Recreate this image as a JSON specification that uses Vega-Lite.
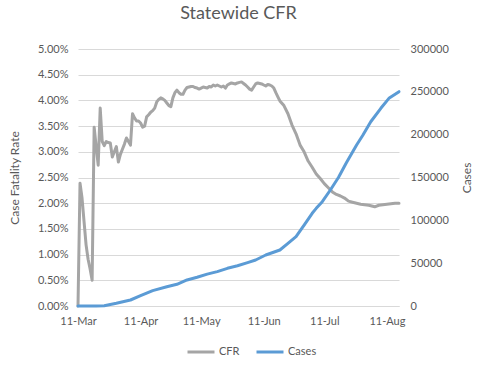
{
 "$schema": "https://vega.github.io/schema/vega-lite/v6.json",
 "width": 321, "height": 257,
 "autosize": {"type": "none"},
 "padding": {"left": 78, "top": 49, "right": 85, "bottom": 63},
 "background": "white",
 "title": {"text": "Statewide CFR", "fontSize": 18, "font": "Lato", "fontWeight": "normal", "color": "#595959", "offset": 20, "anchor": "middle"},
 "config": {"view": {"stroke": null}, "font": "Lato"},
 "datasets": {
  "cfr": [
   {"date": "2020-03-11", "cfr": 0},
   {"date": "2020-03-12", "cfr": 0.0239},
   {"date": "2020-03-13", "cfr": 0.021},
   {"date": "2020-03-14", "cfr": 0.0164},
   {"date": "2020-03-15", "cfr": 0.0119},
   {"date": "2020-03-16", "cfr": 0.0091},
   {"date": "2020-03-17", "cfr": 0.0072},
   {"date": "2020-03-18", "cfr": 0.005},
   {"date": "2020-03-19", "cfr": 0.0348},
   {"date": "2020-03-20", "cfr": 0.031},
   {"date": "2020-03-21", "cfr": 0.0274},
   {"date": "2020-03-22", "cfr": 0.0385},
   {"date": "2020-03-23", "cfr": 0.032},
   {"date": "2020-03-24", "cfr": 0.0312},
   {"date": "2020-03-25", "cfr": 0.032},
   {"date": "2020-03-26", "cfr": 0.0318},
   {"date": "2020-03-27", "cfr": 0.0317},
   {"date": "2020-03-28", "cfr": 0.029},
   {"date": "2020-03-29", "cfr": 0.03},
   {"date": "2020-03-30", "cfr": 0.031},
   {"date": "2020-03-31", "cfr": 0.028},
   {"date": "2020-04-01", "cfr": 0.0295},
   {"date": "2020-04-02", "cfr": 0.0305},
   {"date": "2020-04-03", "cfr": 0.0315},
   {"date": "2020-04-04", "cfr": 0.0327},
   {"date": "2020-04-05", "cfr": 0.032},
   {"date": "2020-04-06", "cfr": 0.0313},
   {"date": "2020-04-07", "cfr": 0.0374},
   {"date": "2020-04-08", "cfr": 0.0366},
   {"date": "2020-04-09", "cfr": 0.036},
   {"date": "2020-04-10", "cfr": 0.036},
   {"date": "2020-04-11", "cfr": 0.0356},
   {"date": "2020-04-12", "cfr": 0.0348},
   {"date": "2020-04-13", "cfr": 0.035},
   {"date": "2020-04-14", "cfr": 0.0368},
   {"date": "2020-04-15", "cfr": 0.0372},
   {"date": "2020-04-16", "cfr": 0.0377},
   {"date": "2020-04-17", "cfr": 0.038},
   {"date": "2020-04-18", "cfr": 0.0385},
   {"date": "2020-04-19", "cfr": 0.0397},
   {"date": "2020-04-20", "cfr": 0.0402},
   {"date": "2020-04-21", "cfr": 0.0405},
   {"date": "2020-04-22", "cfr": 0.0403},
   {"date": "2020-04-23", "cfr": 0.04},
   {"date": "2020-04-24", "cfr": 0.0395},
   {"date": "2020-04-25", "cfr": 0.039},
   {"date": "2020-04-26", "cfr": 0.0388},
   {"date": "2020-04-27", "cfr": 0.0405},
   {"date": "2020-04-28", "cfr": 0.0415},
   {"date": "2020-04-29", "cfr": 0.042},
   {"date": "2020-04-30", "cfr": 0.0415},
   {"date": "2020-05-01", "cfr": 0.0412},
   {"date": "2020-05-02", "cfr": 0.0412},
   {"date": "2020-05-03", "cfr": 0.042},
   {"date": "2020-05-04", "cfr": 0.0425},
   {"date": "2020-05-05", "cfr": 0.0426},
   {"date": "2020-05-06", "cfr": 0.0427},
   {"date": "2020-05-07", "cfr": 0.0427},
   {"date": "2020-05-08", "cfr": 0.0425},
   {"date": "2020-05-09", "cfr": 0.0424},
   {"date": "2020-05-10", "cfr": 0.0422},
   {"date": "2020-05-11", "cfr": 0.0424},
   {"date": "2020-05-12", "cfr": 0.0426},
   {"date": "2020-05-13", "cfr": 0.0425},
   {"date": "2020-05-14", "cfr": 0.0424},
   {"date": "2020-05-15", "cfr": 0.0427},
   {"date": "2020-05-16", "cfr": 0.0426},
   {"date": "2020-05-17", "cfr": 0.043},
   {"date": "2020-05-18", "cfr": 0.0428},
   {"date": "2020-05-19", "cfr": 0.043},
   {"date": "2020-05-20", "cfr": 0.0428},
   {"date": "2020-05-21", "cfr": 0.0426},
   {"date": "2020-05-22", "cfr": 0.0428},
   {"date": "2020-05-23", "cfr": 0.0424},
   {"date": "2020-05-24", "cfr": 0.043},
   {"date": "2020-05-25", "cfr": 0.0432},
   {"date": "2020-05-26", "cfr": 0.0434},
   {"date": "2020-05-27", "cfr": 0.0433},
   {"date": "2020-05-28", "cfr": 0.0432},
   {"date": "2020-05-29", "cfr": 0.0434},
   {"date": "2020-05-30", "cfr": 0.0435},
   {"date": "2020-05-31", "cfr": 0.0436},
   {"date": "2020-06-01", "cfr": 0.0433},
   {"date": "2020-06-02", "cfr": 0.043},
   {"date": "2020-06-03", "cfr": 0.0426},
   {"date": "2020-06-04", "cfr": 0.0422},
   {"date": "2020-06-05", "cfr": 0.042},
   {"date": "2020-06-06", "cfr": 0.0426},
   {"date": "2020-06-07", "cfr": 0.0432},
   {"date": "2020-06-08", "cfr": 0.0434},
   {"date": "2020-06-09", "cfr": 0.0433},
   {"date": "2020-06-10", "cfr": 0.0432},
   {"date": "2020-06-11", "cfr": 0.043},
   {"date": "2020-06-12", "cfr": 0.0428},
   {"date": "2020-06-13", "cfr": 0.0431},
   {"date": "2020-06-14", "cfr": 0.043},
   {"date": "2020-06-15", "cfr": 0.0428},
   {"date": "2020-06-16", "cfr": 0.0424},
   {"date": "2020-06-17", "cfr": 0.0415},
   {"date": "2020-06-18", "cfr": 0.0407},
   {"date": "2020-06-19", "cfr": 0.0399},
   {"date": "2020-06-21", "cfr": 0.039},
   {"date": "2020-06-23", "cfr": 0.0374},
   {"date": "2020-06-25", "cfr": 0.0352},
   {"date": "2020-06-27", "cfr": 0.0335},
   {"date": "2020-06-29", "cfr": 0.0313},
   {"date": "2020-07-01", "cfr": 0.03},
   {"date": "2020-07-03", "cfr": 0.0282},
   {"date": "2020-07-05", "cfr": 0.027},
   {"date": "2020-07-07", "cfr": 0.0257},
   {"date": "2020-07-09", "cfr": 0.0248},
   {"date": "2020-07-11", "cfr": 0.0238},
   {"date": "2020-07-13", "cfr": 0.023},
   {"date": "2020-07-15", "cfr": 0.0222},
   {"date": "2020-07-17", "cfr": 0.0217},
   {"date": "2020-07-19", "cfr": 0.0214},
   {"date": "2020-07-21", "cfr": 0.021},
   {"date": "2020-07-23", "cfr": 0.0204},
   {"date": "2020-07-25", "cfr": 0.0202},
   {"date": "2020-07-27", "cfr": 0.02},
   {"date": "2020-07-29", "cfr": 0.0198},
   {"date": "2020-07-31", "cfr": 0.0197},
   {"date": "2020-08-02", "cfr": 0.0196},
   {"date": "2020-08-04", "cfr": 0.0194},
   {"date": "2020-08-05", "cfr": 0.0193},
   {"date": "2020-08-07", "cfr": 0.0196},
   {"date": "2020-08-09", "cfr": 0.0197},
   {"date": "2020-08-11", "cfr": 0.0198},
   {"date": "2020-08-13", "cfr": 0.0199},
   {"date": "2020-08-15", "cfr": 0.02},
   {"date": "2020-08-17", "cfr": 0.02}
  ],
  "cases": [
   {"date": "2020-03-11", "cases": 0},
   {"date": "2020-03-20", "cases": 0},
   {"date": "2020-03-24", "cases": 300},
   {"date": "2020-03-30", "cases": 3150},
   {"date": "2020-04-06", "cases": 7000},
   {"date": "2020-04-11", "cases": 12000},
   {"date": "2020-04-17", "cases": 18000},
   {"date": "2020-04-24", "cases": 22500},
   {"date": "2020-04-29", "cases": 25300},
   {"date": "2020-05-04", "cases": 30400},
   {"date": "2020-05-09", "cases": 33500},
   {"date": "2020-05-14", "cases": 37200},
   {"date": "2020-05-19", "cases": 40100},
   {"date": "2020-05-24", "cases": 44000},
   {"date": "2020-05-29", "cases": 47000},
   {"date": "2020-06-03", "cases": 50600},
   {"date": "2020-06-07", "cases": 53700},
   {"date": "2020-06-12", "cases": 59500},
   {"date": "2020-06-19", "cases": 65400},
   {"date": "2020-06-23", "cases": 73200},
   {"date": "2020-06-27", "cases": 80900},
   {"date": "2020-07-01", "cases": 94500},
   {"date": "2020-07-05", "cases": 108200},
   {"date": "2020-07-07", "cases": 114000},
   {"date": "2020-07-10", "cases": 121800},
   {"date": "2020-07-14", "cases": 135400},
   {"date": "2020-07-18", "cases": 150000},
   {"date": "2020-07-22", "cases": 167500},
   {"date": "2020-07-27", "cases": 188000},
   {"date": "2020-07-30", "cases": 199000},
   {"date": "2020-08-03", "cases": 215100},
   {"date": "2020-08-08", "cases": 230800},
   {"date": "2020-08-12", "cases": 242400},
   {"date": "2020-08-17", "cases": 250200}
  ]
 },
 "layer": [
  {
   "data": {"name": "cfr"},
   "mark": {"type": "line", "strokeWidth": 3, "strokeJoin": "round", "strokeCap": "round"},
   "encoding": {
    "x": {"field": "date", "type": "temporal",
     "scale": {"type": "utc", "domain": [{"year": 2020, "month": 3, "date": 11, "utc": true}, {"year": 2020, "month": 8, "date": 17, "utc": true}]},
     "axis": {"title": null, "format": "%d-%b",
      "values": [{"year": 2020, "month": 3, "date": 11, "utc": true}, {"year": 2020, "month": 4, "date": 11, "utc": true}, {"year": 2020, "month": 5, "date": 11, "utc": true}, {"year": 2020, "month": 6, "date": 11, "utc": true}, {"year": 2020, "month": 7, "date": 11, "utc": true}, {"year": 2020, "month": 8, "date": 11, "utc": true}],
      "grid": false, "ticks": false, "domainColor": "#d9d9d9", "labelPadding": 9, "labelFlush": false, "labelOverlap": false,
      "labelFont": "Lato", "labelFontSize": 11, "labelColor": "#595959"}},
    "y": {"field": "cfr", "type": "quantitative", "scale": {"domain": [0, 0.05]},
     "axis": {"title": "Case Fatality Rate", "values": [0, 0.005, 0.01, 0.015, 0.02, 0.025, 0.03, 0.035, 0.04, 0.045, 0.05], "format": ".2%",
      "grid": true, "gridColor": "#d9d9d9", "domain": false, "ticks": false, "labelPadding": 10,
      "labelFont": "Lato", "labelFontSize": 11, "labelColor": "#595959",
      "titleFont": "Lato", "titleFontSize": 12, "titleFontWeight": "normal", "titleColor": "#595959",
      "titleX": -64, "titleY": 128.5, "titleAngle": 270, "titleAlign": "center", "titleBaseline": "middle"}},
    "color": {"datum": "CFR", "type": "nominal",
     "scale": {"domain": ["CFR", "Cases"], "range": ["#a5a5a5", "#5b9bd5"]},
     "legend": {"orient": "none", "legendX": 108, "legendY": 288, "direction": "horizontal", "title": null,
      "symbolType": "stroke", "symbolSize": 729, "symbolStrokeWidth": 3, "labelFont": "Lato", "labelFontSize": 11, "labelColor": "#595959",
      "columnPadding": 10, "labelOffset": 3}}
   }
  },
  {
   "data": {"name": "cases"},
   "mark": {"type": "line", "strokeWidth": 3, "strokeJoin": "round", "strokeCap": "round"},
   "encoding": {
    "x": {"field": "date", "type": "temporal"},
    "y": {"field": "cases", "type": "quantitative", "scale": {"domain": [0, 300000]},
     "axis": {"orient": "right", "title": "Cases", "values": [0, 50000, 100000, 150000, 200000, 250000, 300000], "format": "d",
      "grid": false, "domain": false, "ticks": false, "labelPadding": 11,
      "labelFont": "Lato", "labelFontSize": 11, "labelColor": "#595959",
      "titleFont": "Lato", "titleFontSize": 12, "titleFontWeight": "normal", "titleColor": "#595959",
      "titleX": 67, "titleY": 128.5, "titleAngle": 270, "titleAlign": "center", "titleBaseline": "middle"}},
    "color": {"datum": "Cases", "type": "nominal"}
   }
  }
 ],
 "resolve": {"scale": {"y": "independent"}}
}
